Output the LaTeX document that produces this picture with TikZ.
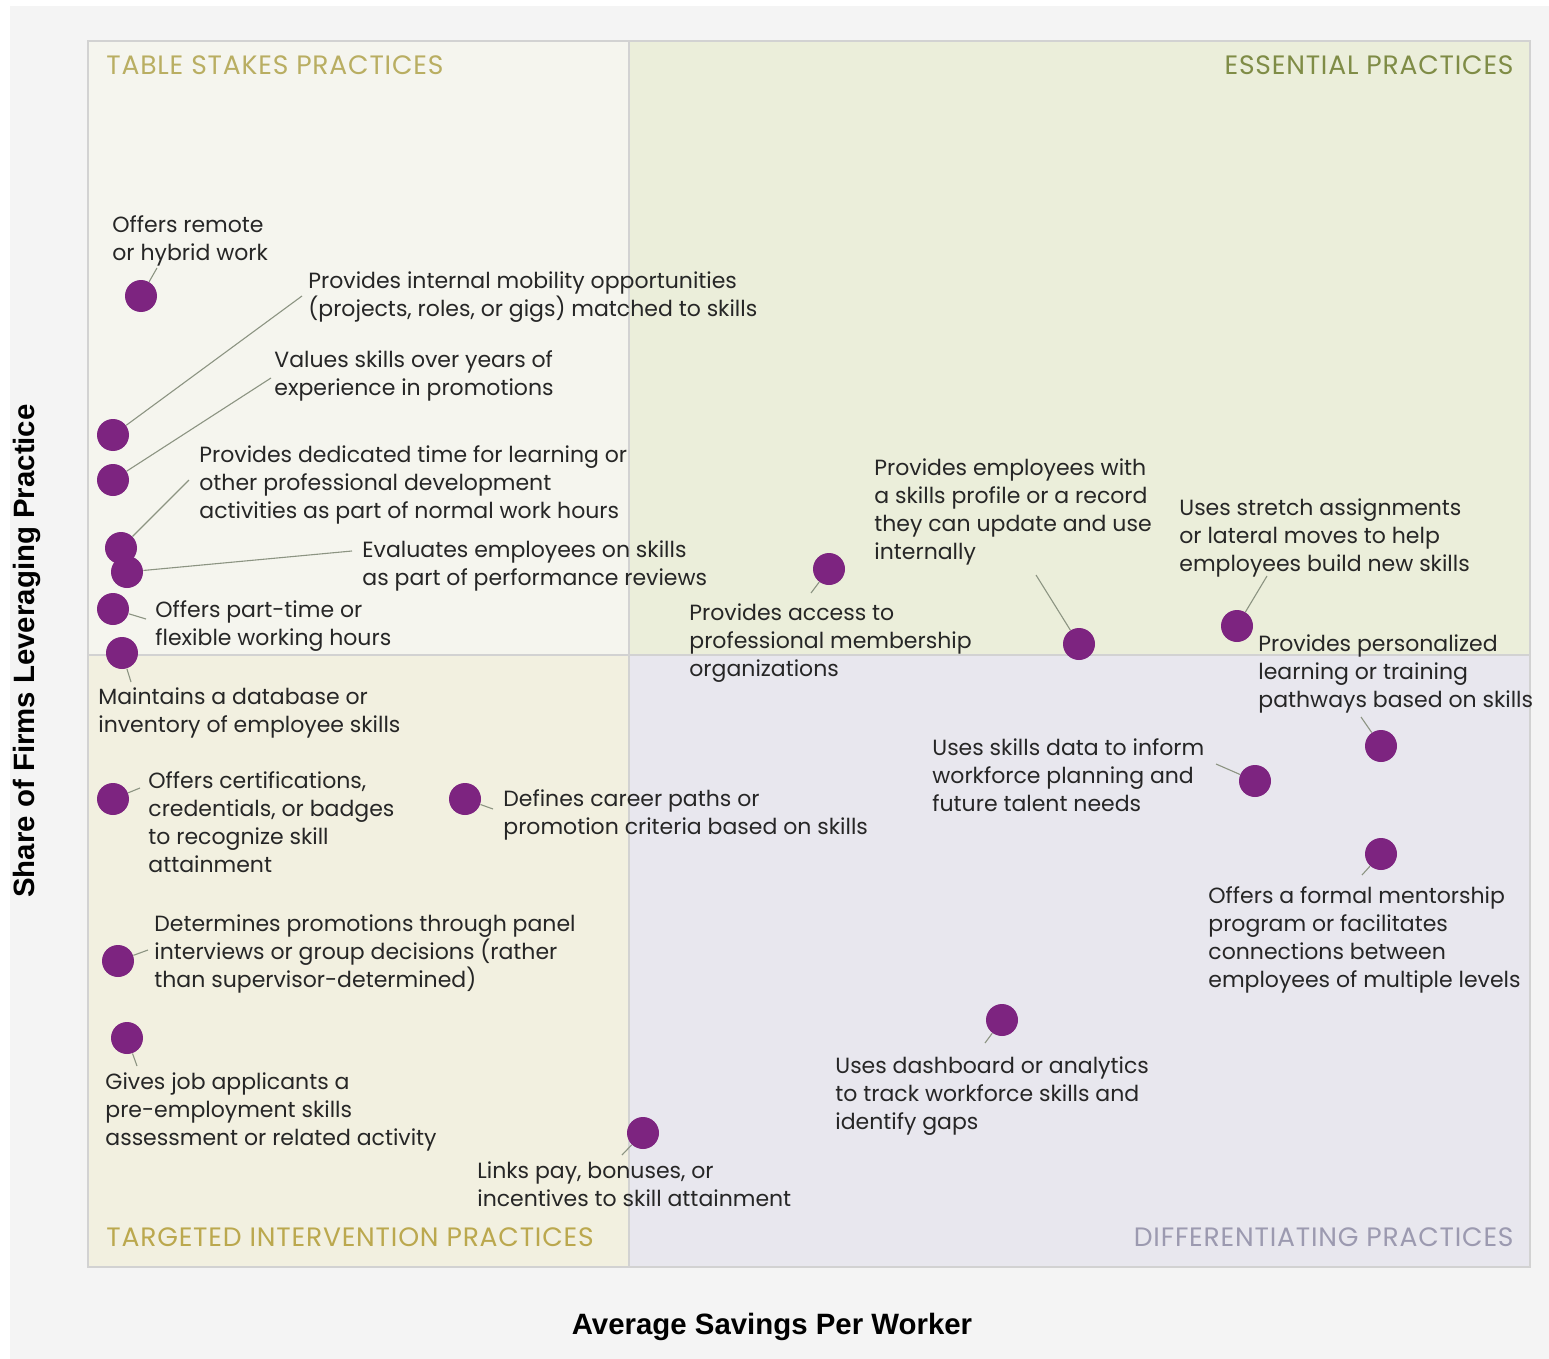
\documentclass[tikz,border=0pt]{standalone}
\usepackage{fontspec}
\setmainfont{Poppins}
\newfontfamily\quadfont{Poppins}[LetterSpace=3]
\newfontfamily\axisfont{Liberation Sans}
\usetikzlibrary{positioning}
\definecolor{outerbg}{HTML}{F4F4F4}
\definecolor{framegray}{HTML}{D2D2D2}
\definecolor{tablebg}{HTML}{F5F5EE}
\definecolor{essentbg}{HTML}{EBEEDA}
\definecolor{targetbg}{HTML}{F2F0E0}
\definecolor{diffbg}{HTML}{E8E7EE}
\definecolor{dotpurple}{HTML}{7D2480}
\definecolor{leadergray}{HTML}{8C9482}
\definecolor{tabletxt}{HTML}{B9AE62}
\definecolor{essenttxt}{HTML}{7F8C46}
\definecolor{targettxt}{HTML}{BBA84E}
\definecolor{difftxt}{HTML}{9C9AB0}
\definecolor{bodytxt}{HTML}{262626}
\tikzset{
  practice/.style = {circle, fill=dotpurple, inner sep=0pt, minimum size=16pt},
  label/.style = {anchor=north west, align=left, inner sep=0pt, text=bodytxt,
                  font=\fontsize{11}{14}\selectfont},
  quadrant/.style = {inner sep=0pt, font=\quadfont\fontsize{13.3}{16}\selectfont},
  leader/.style = {draw=leadergray, line width=0.55pt},
}

\begin{document}
\begin{tikzpicture}[x=0.5pt, y=-0.5pt]
  \useasboundingbox (0,0) rectangle (1549,1359);
  \fill[outerbg] (10,6) rectangle (1549,1359);
  % quadrants
  \fill[tablebg] (88,41) rectangle (629,655);
  \fill[essentbg] (629,41) rectangle (1530,655);
  \fill[targetbg] (88,655) rectangle (629,1267);
  \fill[diffbg] (629,655) rectangle (1530,1267);
  \draw[framegray, line width=0.6pt] (629,41) -- (629,1267) (88,655) -- (1530,655);
  \draw[framegray, line width=0.8pt] (88,41) rectangle (1530,1267);
  \node[quadrant, text=tabletxt, anchor=west] (tstakes) at (106,65) {TABLE STAKES PRACTICES};
  \node[quadrant, text=essenttxt, anchor=east] (essent) at (1514,65) {ESSENTIAL PRACTICES};
  \node[quadrant, text=targettxt, anchor=west] (target) at (106,1237) {TARGETED INTERVENTION PRACTICES};
  \node[quadrant, text=difftxt, anchor=east] (differ) at (1514,1237) {DIFFERENTIATING PRACTICES};

  % axes
  \node[font=\axisfont\bfseries\fontsize{14.7}{17}\selectfont, text=black] (xaxis) at (772,1327) {Average Savings Per Worker};
  \node[font=\axisfont\bfseries\fontsize{14.7}{17}\selectfont, text=black, rotate=90] (yaxis) at (27,651) {Share of Firms Leveraging Practice};

  % practices
  \node[practice] (1) at (141,296) {};
  \node[practice] (2) at (113,435) {};
  \node[practice] (3) at (113,480) {};
  \node[practice] (4) at (121,548) {};
  \node[practice] (5) at (127,572) {};
  \node[practice] (6) at (113,609) {};
  \node[practice] (7) at (122,653) {};
  \node[practice] (8) at (113,799) {};
  \node[practice] (9) at (465,799) {};
  \node[practice] (10) at (118,961) {};
  \node[practice] (11) at (127,1038) {};
  \node[practice] (12) at (643,1133) {};
  \node[practice] (13) at (829,569) {};
  \node[practice] (14) at (1079,644) {};
  \node[practice] (15) at (1237,626) {};
  \node[practice] (16) at (1381,746) {};
  \node[practice] (17) at (1255,781) {};
  \node[practice] (18) at (1381,854) {};
  \node[practice] (19) at (1002,1020) {};

  % labels
  \node[label] (t1) at (112,215) {Offers remote\\or hybrid work};
  \node[label] (t2) at (308,271) {Provides internal mobility opportunities\\(projects, roles, or gigs) matched to skills};
  \node[label] (t3) at (274,350) {Values skills over years of\\experience in promotions};
  \node[label] (t4) at (199,445) {Provides dedicated time for learning or\\other professional development\\activities as part of normal work hours};
  \node[label] (t5) at (362,540) {Evaluates employees on skills\\as part of performance reviews};
  \node[label] (t6) at (155,600) {Offers part-time or\\flexible working hours};
  \node[label] (t7) at (98,687) {Maintains a database or\\inventory of employee skills};
  \node[label] (t8) at (148,771) {Offers certifications,\\credentials, or badges\\to recognize skill\\attainment};
  \node[label] (t9) at (503,789) {Defines career paths or\\promotion criteria based on skills};
  \node[label] (t10) at (154,914) {Determines promotions through panel\\interviews or group decisions (rather\\than supervisor-determined)};
  \node[label] (t11) at (105,1072) {Gives job applicants a\\pre-employment skills\\assessment or related activity};
  \node[label] (t12) at (477,1161) {Links pay, bonuses, or\\incentives to skill attainment};
  \node[label] (t13) at (689,603) {Provides access to\\professional membership\\organizations};
  \node[label] (t14) at (874,458) {Provides employees with\\a skills profile or a record\\they can update and use\\internally};
  \node[label] (t15) at (1179,498) {Uses stretch assignments\\or lateral moves to help\\employees build new skills};
  \node[label] (t16) at (1258,634) {Provides personalized\\learning or training\\pathways based on skills};
  \node[label] (t17) at (932,738) {Uses skills data to inform\\workforce planning and\\future talent needs};
  \node[label] (t18) at (1208,886) {Offers a formal mentorship\\program or facilitates\\connections between\\employees of multiple levels};
  \node[label] (t19) at (835,1056) {Uses dashboard or analytics\\to track workforce skills and\\identify gaps};

  % leader ends
  \coordinate (e1) at (157,268);
  \coordinate (e2) at (302,296);
  \coordinate (e3) at (271,378);
  \coordinate (e4) at (189,480);
  \coordinate (e5) at (352,551);
  \coordinate (e6) at (146,619);
  \coordinate (e7) at (131,682);
  \coordinate (e8) at (140,788);
  \coordinate (e9) at (493,809);
  \coordinate (e10) at (148,950);
  \coordinate (e11) at (137,1066);
  \coordinate (e12) at (622,1155);
  \coordinate (e13) at (811,593);
  \coordinate (e14) at (1036,575);
  \coordinate (e15) at (1267,576);
  \coordinate (e16) at (1361,717);
  \coordinate (e17) at (1216,764);
  \coordinate (e18) at (1362,875);
  \coordinate (e19) at (985,1043);
  \draw[leader]
      (1) -- (e1)  (2) -- (e2)  (3) -- (e3)  (4) -- (e4)  (5) -- (e5)
      (6) -- (e6)  (7) -- (e7)  (8) -- (e8)  (9) -- (e9)  (10) -- (e10)
      (11) -- (e11)  (12) -- (e12)  (13) -- (e13)  (14) -- (e14)  (15) -- (e15)
      (16) -- (e16)  (17) -- (e17)  (18) -- (e18)  (19) -- (e19);
\end{tikzpicture}
\end{document}
